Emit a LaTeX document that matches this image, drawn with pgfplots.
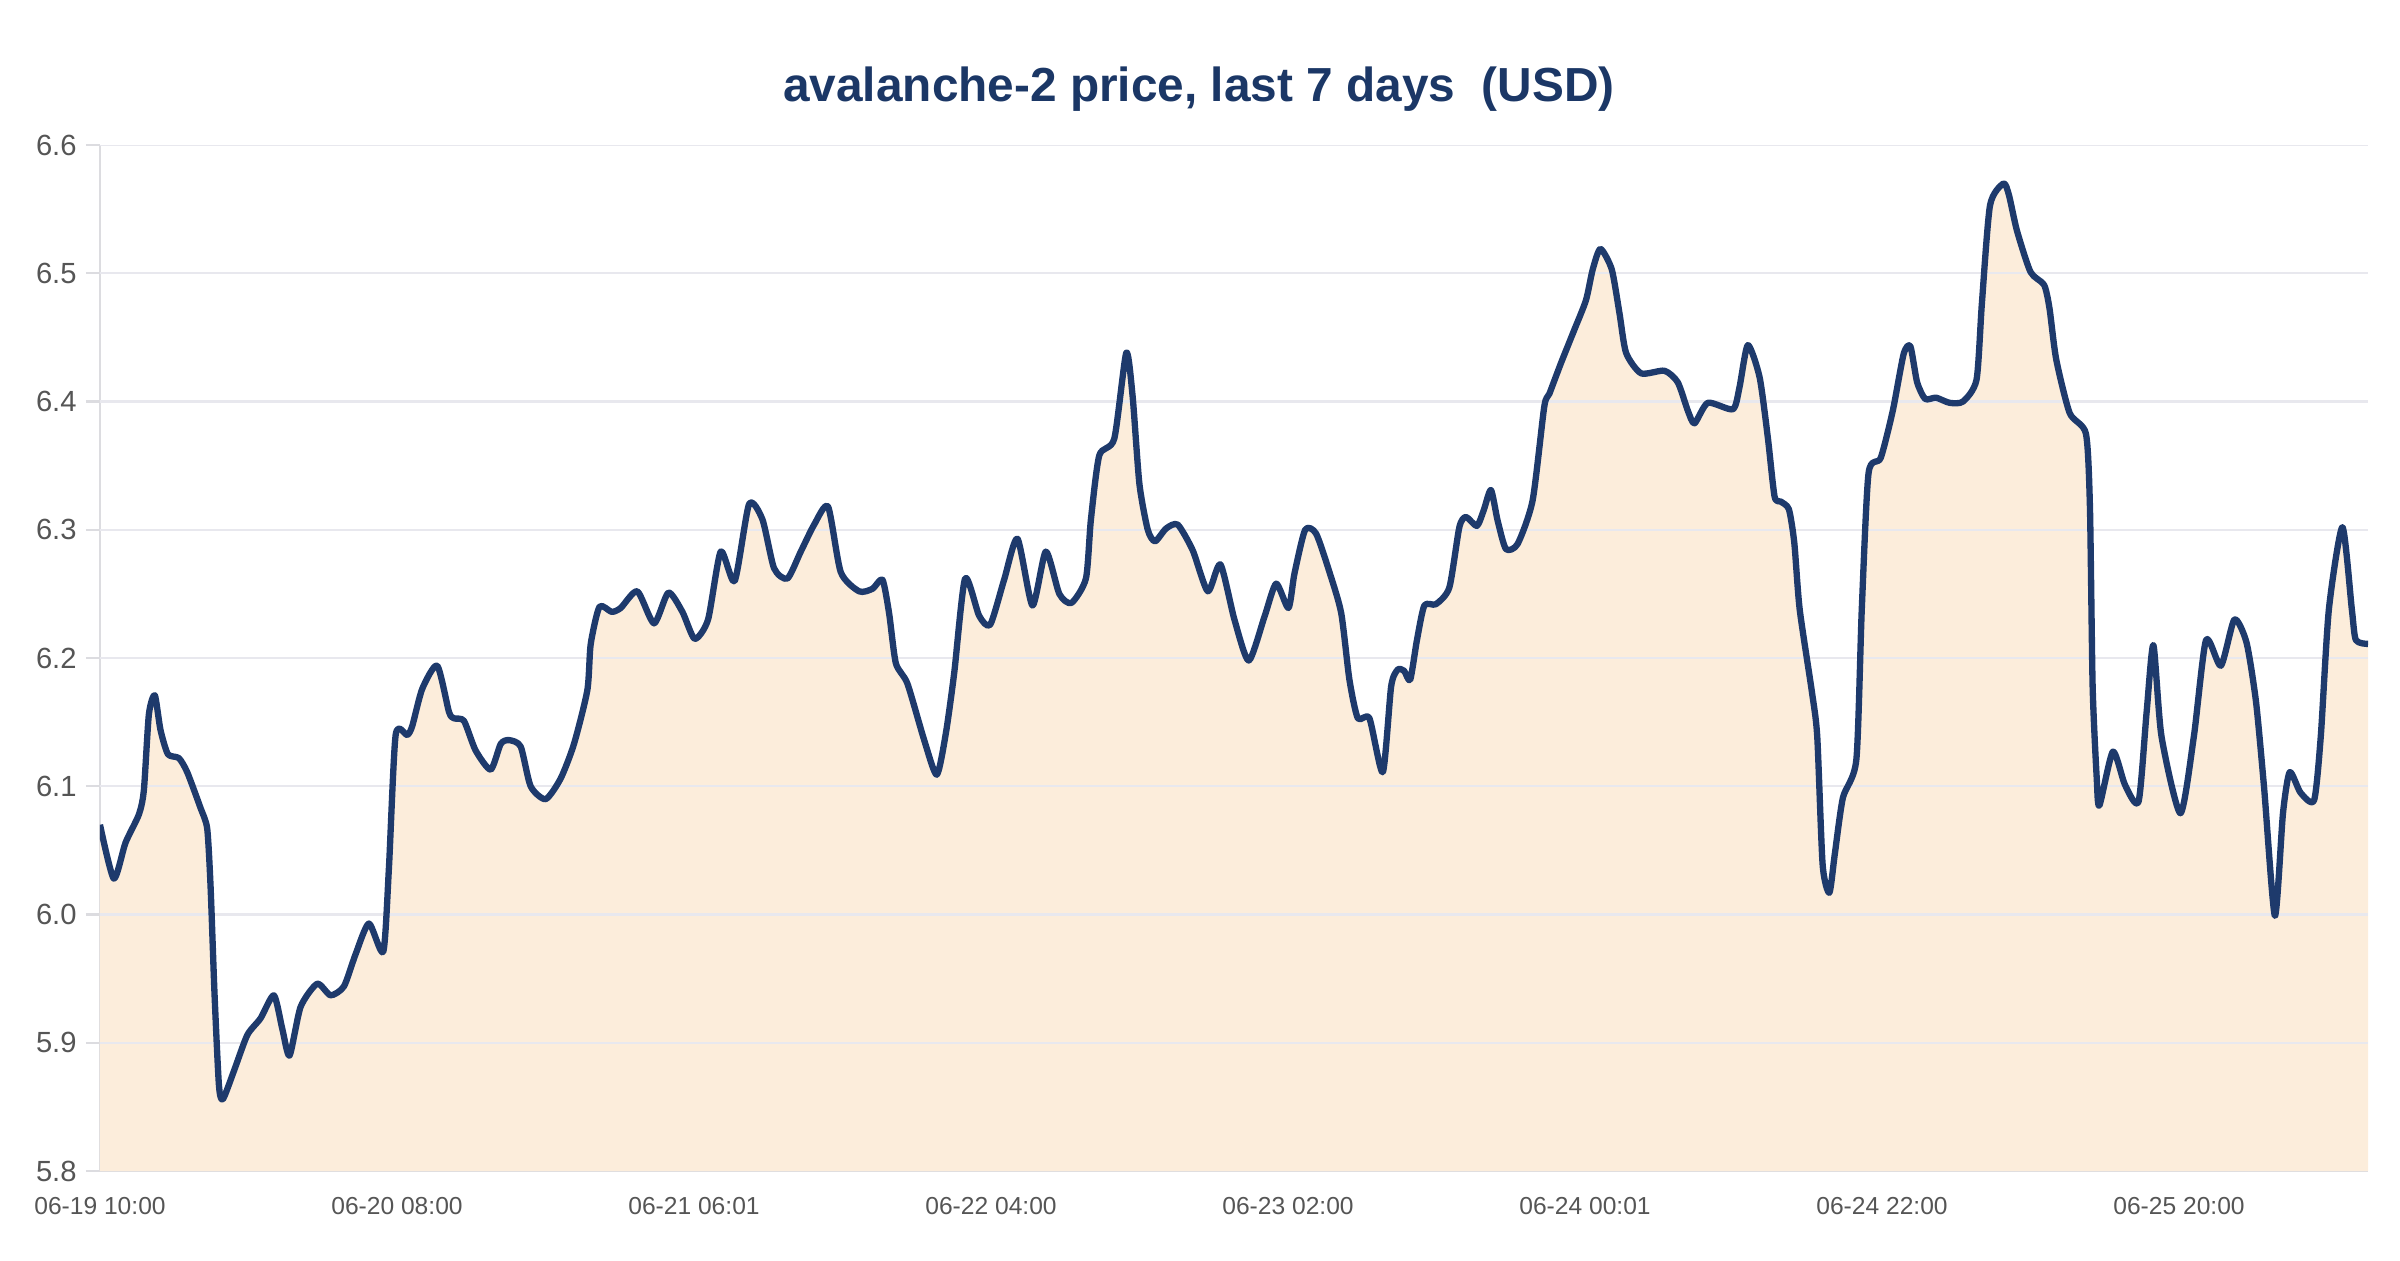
\documentclass[border=0pt]{standalone}
\usepackage{pgfplots}
\pgfplotsset{compat=1.18}
\usepackage{pgfplotstable}
\usepackage{fontspec}
\setmainfont{Liberation Sans}
\definecolor{linec}{HTML}{1E3A6C}
\definecolor{titlec}{HTML}{1B3766}
\definecolor{fillc}{HTML}{FCEDDB}
\definecolor{gridc}{HTML}{E8E8EE}
\definecolor{axisc}{HTML}{DCDCE0}
\definecolor{tickc}{HTML}{555555}

\pgfplotstableread{
h v
0.00 6.070
1.02 6.028
1.89 6.056
2.88 6.078
3.25 6.097
3.62 6.156
4.06 6.171
4.48 6.144
5.03 6.125
5.84 6.122
6.46 6.111
7.45 6.083
7.94 6.067
8.19 6.022
8.48 5.939
8.81 5.867
9.10 5.856
9.92 5.878
10.91 5.906
11.89 5.919
12.88 5.937
13.50 5.911
14.04 5.890
14.86 5.928
16.09 5.946
17.08 5.937
18.07 5.944
18.93 5.969
19.92 5.993
20.98 5.971
21.40 6.036
21.90 6.140
22.76 6.140
23.13 6.147
23.87 6.176
24.98 6.194
25.85 6.158
26.22 6.153
26.96 6.151
27.82 6.128
28.94 6.113
29.68 6.133
30.29 6.136
31.16 6.131
31.90 6.100
33.01 6.090
34.12 6.106
35.11 6.133
36.10 6.175
36.35 6.211
37.00 6.240
37.90 6.236
38.57 6.239
39.80 6.252
41.04 6.227
42.10 6.251
43.14 6.236
44.05 6.215
45.04 6.230
45.98 6.283
47.01 6.260
48.08 6.320
49.07 6.308
49.93 6.270
50.92 6.262
51.91 6.283
52.90 6.304
53.93 6.318
54.87 6.267
56.23 6.252
57.22 6.254
57.96 6.261
58.45 6.235
58.95 6.196
59.81 6.180
61.05 6.136
61.98 6.109
62.65 6.141
63.27 6.188
64.08 6.262
65.12 6.233
65.94 6.226
66.97 6.261
67.96 6.293
69.07 6.241
70.06 6.283
71.06 6.250
71.96 6.243
73.03 6.262
73.40 6.308
74.02 6.358
75.13 6.371
76.02 6.438
76.49 6.404
76.99 6.336
77.61 6.300
78.15 6.291
78.97 6.301
79.83 6.304
80.94 6.284
82.06 6.252
82.99 6.273
84.03 6.230
85.09 6.198
86.25 6.232
87.12 6.258
88.03 6.239
88.48 6.266
89.27 6.300
90.08 6.297
91.07 6.267
91.94 6.235
92.55 6.183
93.17 6.153
94.03 6.153
95.02 6.111
95.64 6.178
96.13 6.191
96.60 6.190
97.05 6.183
97.55 6.214
98.10 6.241
98.96 6.242
99.95 6.255
100.69 6.302
101.18 6.310
101.99 6.303
102.49 6.315
103.03 6.331
103.53 6.307
104.14 6.285
105.01 6.289
106.12 6.323
106.98 6.396
107.36 6.406
108.22 6.430
109.21 6.456
110.07 6.479
110.57 6.503
111.14 6.519
111.98 6.503
112.55 6.469
113.04 6.438
114.15 6.422
115.88 6.424
116.87 6.415
117.61 6.393
118.11 6.383
119.10 6.399
120.95 6.394
121.44 6.411
122.06 6.444
122.93 6.419
123.54 6.372
124.04 6.326
124.50 6.322
125.10 6.316
125.50 6.290
125.90 6.238
126.80 6.174
127.20 6.139
127.60 6.039
128.10 6.017
128.50 6.047
129.10 6.091
130.10 6.121
130.50 6.238
131.00 6.344
131.90 6.356
132.80 6.393
133.60 6.437
134.10 6.443
134.60 6.415
135.20 6.402
136.00 6.403
137.00 6.399
138.00 6.400
139.00 6.417
139.40 6.477
140.00 6.553
141.00 6.570
141.40 6.561
142.00 6.533
143.00 6.501
144.00 6.491
144.40 6.473
144.90 6.433
145.90 6.391
147.10 6.375
147.40 6.318
147.60 6.178
147.90 6.107
148.10 6.085
149.10 6.127
150.00 6.101
151.00 6.088
151.60 6.158
152.10 6.210
152.70 6.139
154.10 6.079
155.10 6.139
156.00 6.214
157.10 6.194
158.10 6.230
159.00 6.212
159.70 6.166
160.30 6.099
161.10 5.999
161.70 6.079
162.20 6.111
163.00 6.095
164.00 6.089
164.50 6.139
165.10 6.238
166.10 6.302
166.80 6.238
167.10 6.214
168.00 6.211
}\pricedata

\begin{document}
\begin{tikzpicture}
\path[use as bounding box] (0,0) rectangle (24cm,12.6cm);
\node[font=\fontsize{13.6}{16}\selectfont\bfseries, text=titlec] at (11.99cm,11.71cm) {avalanche-2 price, last 7 days\ \ (USD)};
\begin{axis}[
  at={(1.0cm,0.89cm)}, anchor=south west,
  scale only axis, width=22.68cm, height=10.26cm,
  xmin=0, xmax=168, ymin=5.8, ymax=6.6,
  xtick={0,22,44,66,88,110,132,154},
  xticklabels={06-19 10:00,06-20 08:00,06-21 06:01,06-22 04:00,06-23 02:00,06-24 00:01,06-24 22:00,06-25 20:00},
  ytick={5.8,5.9,6.0,6.1,6.2,6.3,6.4,6.5,6.6},
  yticklabels={5.8,5.9,6.0,6.1,6.2,6.3,6.4,6.5,6.6},
  /pgf/number format/assume math mode=true,
  xticklabel style={font=\fontsize{7}{8}\selectfont, text=tickc, yshift=0cm},
  yticklabel style={font=\fontsize{8.3}{10}\selectfont, text=tickc, anchor=east, xshift=0.03cm},
  tick align=outside,
  major tick length=0.14cm,
  xtick style={draw=none},
  ytick style={draw=axisc, line width=0.6pt},
  axis x line*=bottom, axis y line*=left,
  axis line style={draw=axisc, line width=0.6pt},
]
\addplot[fill=fillc, draw=none, smooth, tension=0.4] table[x=h,y=v] {\pricedata} \closedcycle;
\foreach \yy in {5.9,6.0,6.1,6.2,6.3,6.4,6.5,6.6} {
  \edef\tmp{\noexpand\draw[gridc, line width=0.6pt] (axis cs:0,\yy) -- (axis cs:168,\yy);}
  \tmp
}
\addplot[linec, line width=1.8pt, smooth, tension=0.4, line join=round] table[x=h,y=v] {\pricedata};
\end{axis}
\end{tikzpicture}
\end{document}
